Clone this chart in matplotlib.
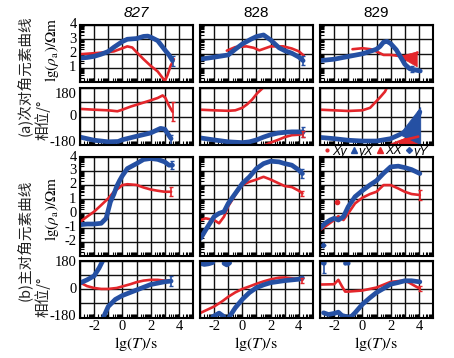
import numpy as np
import matplotlib
matplotlib.use("Agg")
import matplotlib.pyplot as plt
from matplotlib.lines import Line2D
from matplotlib.ticker import FixedLocator, FuncFormatter, NullFormatter
from matplotlib.transforms import offset_copy

nan = np.nan
plt.rcParams['font.family'] = ['Liberation Serif', 'DejaVu Sans']
plt.rcParams['mathtext.fontset'] = 'stix'
plt.rcParams['axes.unicode_minus'] = False

RED = '#e3262b'
BLUE = '#2550a3'

stations = ['827', '828', '829']
xticks_lab = [-2, 0, 2, 4]

# ---------------- station 827 ----------------
x827_rho_xy = [-3, -2, -1, -0.6, 0, 0.35, 0.7, 1, 1.5, 2, 2.5, 2.85, 3.0, 3.2, 3.4, 3.65]
y827_rho_xy = [1.95, 2.02, 2.1, 2.15, 2.37, 2.5, 2.42, 2.1, 1.6, 1.14, 0.74, 0.28, 0.05, 0.5, 1.1, 1.6]
x827_rho_yx = [-3, -2.5, -2, -1.5, -1, -0.6, 0, 0.35, 1, 1.5, 1.8, 2, 2.5, 3, 3.3, 3.55]
y827_rho_yx = [1.68, 1.72, 1.8, 1.95, 2.14, 2.44, 2.84, 3.0, 3.05, 3.2, 3.22, 3.15, 2.9, 2.26, 1.9, 1.5]
x827_ph_xy = [-3, -2, -1, -0.35, 0, 0.6, 1, 1.5, 2, 2.5, 2.85, 3.05, 3.3, 3.55]
y827_ph_xy = [48, 43, 39, 33, 43, 63, 74, 88, 102, 117, 133, 117, 68, 30]
x827_ph_yx = [-3, -2, -1, -0.3, 0, 1, 2, 2.7, 3.0, 3.3, 3.45]
y827_ph_yx = [-130, -150, -160, -158, -147, -125, -104, -75, -80, -120, -140]
x827_rho_xx = [-3, -2.5, -2, -1.5, -1, -0.6, -0.2, 0, 0.35, 1, 1.5, 2, 2.5, 3, 3.45]
y827_rho_xx = [-0.6, -0.23, 0.12, 0.58, 1.05, 1.52, 1.82, 1.99, 2.05, 2.0, 1.82, 1.68, 1.59, 1.52, 1.52]
x827_rho_yy = [-3, -2.5, -2, -1.5, -1.15, -0.85, -0.6, -0.4, -0.2, 0, 0.35, 1, 1.5, 2, 2.5, 3, 3.3, 3.55]
y827_rho_yy = [-0.8, -0.75, -0.75, -0.7, -0.35, 0.8, 1.35, 1.9, 2.3, 2.65, 3.15, 3.5, 3.79, 3.86, 3.8, 3.62, 3.39, 3.39]
x827_ph_xx = [-3, -2.5, -2, -1.5, -1, -0.4, 0, 0.6, 1, 1.5, 2, 2.5, 3, 3.45]
y827_ph_xx = [43, 20, 8, 2, 2, 8, 18, 33, 45, 55, 60, 60, 55, 52]
x827_ph_yy = [-3, -2.5, -2, -1.65, -1.4, nan, -1.35, -1.0, -0.5, 0, 1, 2, 3, 3.45]
y827_ph_yy = [40, 60, 85, 135, 180, nan, -180, -110, -65, -40, -5, 30, 48, 52]

# error bars (x, y, half-length) at curve ends
eb827_x = [3.55, 3.55, 3.45, 3.5, 3.45, 3.45]
eb827_y = [1.5, 30, -150, 3.39, 1.52, 52]
eb827_e = [0.35, 60, 35, 0.3, 0.3, 30]
eb827_row = [0, 1, 1, 2, 2, 3]
eb827_col = [BLUE, RED, BLUE, BLUE, RED, BLUE]

# ---------------- station 828 ----------------
x828_rho_xy = [-1.1, -0.5, 0.3, 0.8, 1.2, 2.0, 2.9, 3.5, 4.0, 4.35]
y828_rho_xy = [2.2, 2.45, 2.5, 2.4, 2.22, 2.5, 2.5, 2.35, 2.15, 1.85]
x828_rho_yx = [-3, -2, -1, -0.5, 0, 0.6, 1, 1.5, 2, 2.6, 3, 3.5, 4, 4.3]
y828_rho_yx = [1.6, 1.74, 1.9, 2.3, 2.67, 3.0, 3.19, 3.3, 2.95, 2.4, 2.2, 2.02, 1.75, 1.5]
x828_ph_xy = [-3, -2, -1, -0.5, 0, 0.35, 0.7, 1.05, 1.4, 1.5, nan, 1.6, 2, 2.6, 3, 3.5, 4, 4.3]
y828_ph_xy = [43, 39, 36, 39, 55, 78, 108, 147, 176, 190, nan, -180, -165, -145, -130, -118, -115, -110]
x828_ph_yx = [-3, -2, -1, 0, 0.5, 1, 1.5, 2, 2.5, 3, 3.5, 4, 4.3]
y828_ph_yx = [-135, -148, -160, -165, -160, -148, -130, -115, -105, -100, -97, -97, -98]
x828_rho_xx = [-2.95, -2.6, -2, -1.65, -1.3, -1.0, -0.5, 0, 0.5, 1, 1.5, 2, 2.6, 3, 3.5, 4, 4.25]
y828_rho_xx = [-0.47, -0.35, -0.47, -0.7, -0.23, 0.5, 1.3, 2.0, 2.22, 2.38, 2.57, 2.38, 2.1, 1.92, 1.85, 1.59, 1.4]
x828_rho_yy = [-2.95, -2.6, -2, -1.65, -1.3, -1, -0.5, 0, 0.5, 1, 1.5, 2, 2.6, 3, 3.5, 4, 4.25]
y828_rho_yy = [-1.75, -1.17, -0.23, 0.0, 0.12, 0.7, 1.4, 2.1, 2.57, 3.15, 3.5, 3.67, 3.62, 3.5, 3.39, 3.04, 2.8]
x828_ph_xx = [-2.95, -2, -1.4, -1, -0.5, 0, 0.5, 1, 1.5, 2, 2.6, 3, 3.5, 4, 4.25]
y828_ph_xx = [-150, -110, -75, -48, -20, 2, 18, 35, 50, 63, 74, 75, 70, 64, 58]
x828_ph_yy = [-2.95, -2.7, -2.4, -2.1, nan, -1.3, -1.1, -0.9, nan,
              -2.1, -1.9, -1.65, -1.45, -1.3, nan,
              -0.95, -0.5, 0, 0.5, 1, 1.5, 2, 3, 4, 4.25]
y828_ph_yy = [165, 158, 162, 170, nan, 165, 155, 168, nan,
              -175, -165, -152, -165, -175, nan,
              -180, -118, -64, -21, 10, 28, 42, 55, 64, 72]

eb828_x = [4.3, 4.3, 4.3, 4.25, 4.25, 4.25]
eb828_y = [1.5, -98, -110, 2.8, 1.4, 58]
eb828_e = [0.3, 30, 20, 0.3, 0.2, 15]
eb828_row = [0, 1, 1, 2, 2, 3]
eb828_col = [BLUE, BLUE, RED, BLUE, RED, RED]

# ---------------- station 829 ----------------
x829_rho_xy = [-0.7, 0, 0.6, 1, 1.5, 2, 2.5, 3, 3.5, 3.9]
y829_rho_xy = [2.3, 2.37, 2.3, 2.14, 1.9, 1.9, 1.84, 1.8, 1.8, 2.07]
x829_rho_xy_fan = [2.7, 3.85]
lo829_rho_xy_fan = [1.75, 1.1]
hi829_rho_xy_fan = [1.85, 2.15]
x829_rho_yx = [-3, -2, -1, 0, 0.7, 1, 1.25, 1.5, 1.75, 2, 2.4, 2.8, 3, 3.35, 3.7, 4.1]
y829_rho_yx = [1.5, 1.6, 1.79, 1.98, 2.2, 2.3, 2.5, 2.8, 2.85, 2.7, 2.26, 1.6, 1.25, 0.93, 0.85, 0.77]
x829_ph_xy = [-3, -2, -1, 0, 0.55, 0.9, 1.25, 1.6, 1.75, nan, 2.0, 2.55, 3, 3.5, 3.95]
y829_ph_xy = [43, 39, 35, 39, 55, 88, 121, 157, 185, nan, -180, -160, -147, -137, -127]
x829_ph_xy_fan = [2.6, 4.0]
lo829_ph_xy_fan = [-175, -180]
hi829_ph_xy_fan = [-150, -95]
x829_ph_yx = [-3, -2, -1, 0, 1, 2, 2.55, 3, 3.5, 3.85, 4.07]
y829_ph_yx = [-132, -140, -150, -155, -155, -140, -118, -98, -63, -25, 29]
x829_ph_yx_fan = [2.8, 4.1]
lo829_ph_yx_fan = [-120, -175]
hi829_ph_yx_fan = [-90, 60]
x829_rho_xx = [-3, -2.64, -2, -1.7, -1.34, -1, -0.52, 0, 0.54, 1, 1.5, 2, 2.54, 3, 3.48, 4.07]
y829_rho_xx = [-1.17, -0.93, -0.47, -0.2, -0.47, 0, 0.7, 1.1, 1.36, 1.52, 1.99, 1.99, 1.75, 1.52, 1.36, 1.29]
x829_rho_xx_out = [-1.8]
y829_rho_xx_out = [0.82]
x829_rho_yy = [-3, -2.64, -2.28, -2, -1.7, -1.34, -1, -0.52, 0, 0.54, 1, 1.48, 2, 2.54, 3, 3.48, 4.07]
y829_rho_yy = [-1.05, -0.7, -0.47, -0.35, -0.47, -0.23, 0.47, 1.17, 1.6, 2.0, 2.3, 2.8, 3.27, 3.32, 3.22, 3.08, 2.8]
x829_rho_yy_out = [-2.8]
y829_rho_yy_out = [-2.2]
x829_ph_xx = [-3, -2, -1.7, -1.46, -1.22, -1, 0, 1, 2, 2.78, 3.25, 3.72, 4.07]
y829_ph_xx = [30, 32, 60, 21, -15, -15, -8, 11, 47, 54, 45, 21, 4]
x829_ph_yy = [-2.95, nan, -2.8, -2.7, nan, -1.2, -1.1, -1.0, nan,
              -2.75, -2.4, -2.0, -1.7, -1.45, -1.0, -0.75, -0.52, 0, 0.54, 1, 1.48, 2, 2.54, 3, 3.48, 4.07]
y829_ph_yy = [30, nan, 168, 165, nan, 165, 172, 165, nan,
              -150, -161, -154, -146, -167, -178, -171, -150, -96, -54, -21, 4, 32, 43, 54, 54, 47]

eb829_x = [3.5, -2.75, 4.07, 4.07]
eb829_y = [0.9, 140, 1.29, 4]
eb829_e = [0.2, 35, 0.35, 15]
eb829_row = [0, 3, 2, 3]
eb829_col = [BLUE, BLUE, RED, RED]

# ---------------- layout ----------------
W, H = 454, 358
fig = plt.figure(figsize=(W / 100, H / 100), dpi=100)
col_left = [80, 200, 320]
col_w = 113
rows = [(25, 82), (88, 145), (156.5, 256), (261, 317.5)]
ylims = [(0, 4), (-180, 180), (-3, 4), (-180, 180)]
ymaj = [[0, 1, 2, 3, 4], [-180, -90, 0, 90, 180], [-3, -2, -1, 0, 1, 2, 3, 4], [-180, -90, 0, 90, 180]]
ylab = [[1, 2, 3, 4], [-180, 0, 180], [-2, -1, 0, 1, 2, 3, 4], [-180, 0, 180]]
# vertical nudges (points, +up) for a few tick labels, as in the reference
ylab_nudge = [{}, {180: -4.5, -180: 1.5}, {4: -1}, {180: -1, -180: 0.5}]

minor_x = [n + np.log10(k) for n in range(-3, 5) for k in range(2, 10)]


def minor_y_rho(lo, hi):
    return [n + np.log10(k) for n in range(lo, hi) for k in range(2, 10)]


TICKFS = 10.5
axes = [[None] * 3 for _ in range(4)]
for r, (top, bot) in enumerate(rows):
    for c in range(3):
        ax = fig.add_axes([col_left[c] / W, 1 - bot / H, col_w / W, (bot - top) / H])
        ax.set_xlim(-3, 5)
        ax.set_ylim(*ylims[r])
        ax.xaxis.set_major_locator(FixedLocator(range(-3, 6)))
        ax.yaxis.set_major_locator(FixedLocator(ymaj[r]))
        ax.xaxis.set_minor_locator(FixedLocator(minor_x))
        if r in (0, 2):
            lo, hi = ylims[r]
            ax.yaxis.set_minor_locator(FixedLocator(minor_y_rho(lo, hi)))
        ax.grid(True, which='major', color='#111111', lw=1.0)
        ax.set_axisbelow(True)
        for s in ax.spines.values():
            s.set_linewidth(1.5)
            s.set_color('black')
        ax.tick_params(which='major', length=0, labelsize=TICKFS, pad=1.5)
        ax.tick_params(which='minor', direction='in', length=3, width=0.8,
                       bottom=True, left=(r in (0, 2)), top=False, right=False)
        if r == 3:
            ax.xaxis.set_major_formatter(FuncFormatter(
                lambda v, p: ('%d' % v) if int(round(v)) in xticks_lab else ''))
        else:
            ax.xaxis.set_major_formatter(NullFormatter())
        ax.yaxis.set_major_formatter(NullFormatter())
        if c == 0:
            tr = ax.get_yaxis_transform()
            for v in ylab[r]:
                t = offset_copy(tr, fig=fig, x=-2.5, y=ylab_nudge[r].get(v, 0), units='points')
                ax.text(0, v, '%d' % v, transform=t, ha='right', va='center',
                        fontsize=TICKFS, clip_on=False)
        axes[r][c] = ax


def line(ax, x, y, color, lw):
    ax.plot(np.array(x, float), np.array(y, float), color=color, lw=lw,
            solid_capstyle='round', solid_joinstyle='round')


data = {
    '827': [(x827_rho_xy, y827_rho_xy, x827_rho_yx, y827_rho_yx),
            (x827_ph_xy, y827_ph_xy, x827_ph_yx, y827_ph_yx),
            (x827_rho_xx, y827_rho_xx, x827_rho_yy, y827_rho_yy),
            (x827_ph_xx, y827_ph_xx, x827_ph_yy, y827_ph_yy)],
    '828': [(x828_rho_xy, y828_rho_xy, x828_rho_yx, y828_rho_yx),
            (x828_ph_xy, y828_ph_xy, x828_ph_yx, y828_ph_yx),
            (x828_rho_xx, y828_rho_xx, x828_rho_yy, y828_rho_yy),
            (x828_ph_xx, y828_ph_xx, x828_ph_yy, y828_ph_yy)],
    '829': [(x829_rho_xy, y829_rho_xy, x829_rho_yx, y829_rho_yx),
            (x829_ph_xy, y829_ph_xy, x829_ph_yx, y829_ph_yx),
            (x829_rho_xx, y829_rho_xx, x829_rho_yy, y829_rho_yy),
            (x829_ph_xx, y829_ph_xx, x829_ph_yy, y829_ph_yy)],
}
errbars = {
    '827': (eb827_x, eb827_y, eb827_e, eb827_row, eb827_col),
    '828': (eb828_x, eb828_y, eb828_e, eb828_row, eb828_col),
    '829': (eb829_x, eb829_y, eb829_e, eb829_row, eb829_col),
}

for c, st in enumerate(stations):
    for r in range(4):
        xr, yr, xb, yb = data[st][r]
        ax = axes[r][c]
        line(ax, xr, yr, RED, 1.9)
        line(ax, xb, yb, BLUE, 3.4)
    ex, ey, ee, erow, ecol = errbars[st]
    for x, y, e, r, col in zip(ex, ey, ee, erow, ecol):
        axes[r][c].errorbar([x], [y], yerr=[e], fmt='none', ecolor=col, elinewidth=1.2,
                            capsize=1.5, capthick=1.0)

# extra features for 829
axes[0][2].fill_between(x829_rho_xy_fan, lo829_rho_xy_fan, hi829_rho_xy_fan, color=RED, lw=0.5)
axes[1][2].fill_between(x829_ph_xy_fan, lo829_ph_xy_fan, hi829_ph_xy_fan, color=RED, lw=0.5)
axes[1][2].fill_between(x829_ph_yx_fan, lo829_ph_yx_fan, hi829_ph_yx_fan, color=BLUE, lw=0.5)
axes[2][2].plot(x829_rho_xx_out, y829_rho_xx_out, 'o', color=RED, ms=3)
axes[2][2].plot(x829_rho_yy_out, y829_rho_yy_out, 'D', color=BLUE, ms=2.5)

# column titles and x labels
for c, st in enumerate(stations):
    fig.text((col_left[c] + col_w / 2) / W, 1 - 13 / H, st, ha='center', va='center',
             fontsize=11, family='Liberation Sans', style='italic' if c == 0 else 'normal')
    fig.text((col_left[c] + col_w / 2) / W, 1 - 344 / H, r'$\mathrm{lg}(T)/\mathrm{s}$',
             ha='center', va='center', fontsize=11.5)

# left labels
cjk = ['Noto Sans CJK SC', 'DejaVu Sans']
fig.text(24 / W, 1 - 76 / H, '(a)次对角元素曲线', rotation=90, ha='center', va='center',
         fontsize=10.5, family=cjk, color='#222222')
fig.text(24 / W, 1 - 240 / H, '(b)主对角元素曲线', rotation=90, ha='center', va='center',
         fontsize=10.5, family=cjk, color='#222222')
fig.text(52 / W, 1 - 50 / H, r'$\mathrm{lg}(\rho_\mathrm{a})/\Omega\mathrm{m}$', rotation=90,
         ha='center', va='center', fontsize=11)
fig.text(52 / W, 1 - 209 / H, r'$\mathrm{lg}(\rho_\mathrm{a})/\Omega\mathrm{m}$', rotation=90,
         ha='center', va='center', fontsize=11)
fig.text(43 / W, 1 - 120 / H, '相位/°', rotation=90, ha='center', va='center',
         fontsize=10.5, family=cjk, color='#222222')
fig.text(43 / W, 1 - 297 / H, '相位/°', rotation=90, ha='center', va='center',
         fontsize=10.5, family=cjk, color='#222222')

# legend
handles = [Line2D([], [], ls='none', marker='.', color=RED, ms=4),
           Line2D([], [], ls='none', marker='^', color=BLUE, ms=4),
           Line2D([], [], ls='none', marker='^', color=RED, ms=4),
           Line2D([], [], ls='none', marker='D', color=BLUE, ms=3)]
labels = ['Xy', 'yX', 'XX', 'yY']
fig.legend(handles, labels, loc='center', bbox_to_anchor=(376 / W, 1 - 151.5 / H), ncol=4,
           frameon=False, handlelength=0.6, handletextpad=0.1, columnspacing=0.25,
           borderpad=0, borderaxespad=0,
           prop={'family': 'Liberation Sans', 'style': 'italic', 'size': 9})

fig.savefig('out.png', dpi=100)
